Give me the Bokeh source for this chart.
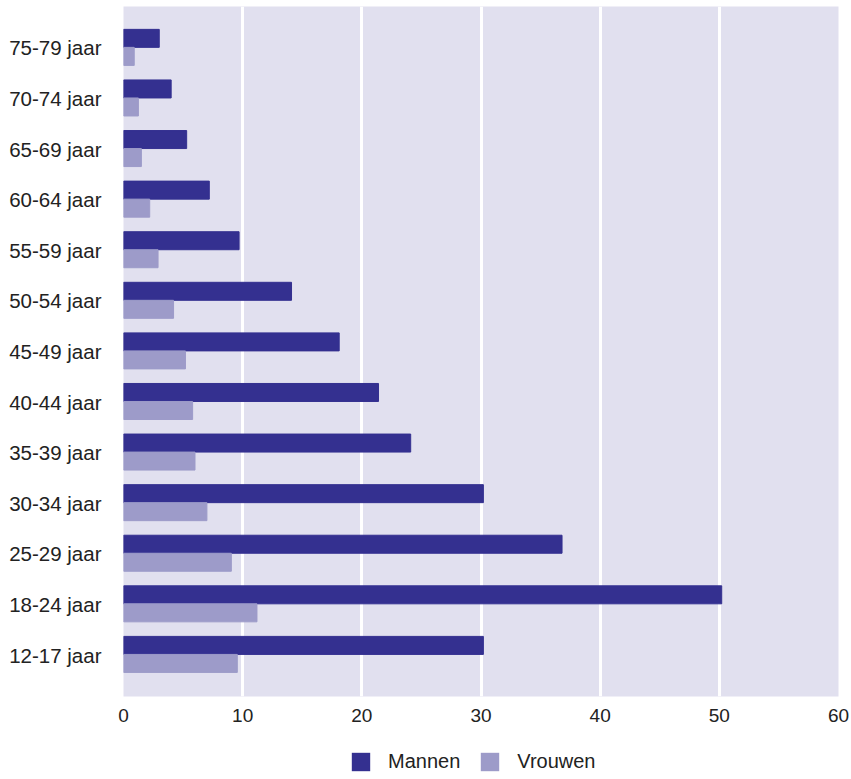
from bokeh.plotting import figure
from bokeh.models import ColumnDataSource, FactorRange, Legend, LegendItem
from bokeh.layouts import column
from bokeh.transform import dodge
from bokeh.embed import file_html
from bokeh.resources import INLINE

categories = ["12-17 jaar", "18-24 jaar", "25-29 jaar", "30-34 jaar", "35-39 jaar",
              "40-44 jaar", "45-49 jaar", "50-54 jaar", "55-59 jaar", "60-64 jaar",
              "65-69 jaar", "70-74 jaar", "75-79 jaar"]
mannen = [30.2, 50.2, 36.8, 30.2, 24.1, 21.4, 18.1, 14.1, 9.7, 7.2, 5.3, 4.0, 3.0]
vrouwen = [9.55, 11.2, 9.05, 7.0, 6.0, 5.8, 5.2, 4.2, 2.9, 2.2, 1.5, 1.25, 0.9]
x_ticks = [0, 10, 20, 30, 40, 50, 60]
series_names = ["Mannen", "Vrouwen"]
series_colors = ["#343090", "#9d9bc9"]

source = ColumnDataSource(dict(cat=categories, mannen=mannen, vrouwen=vrouwen))

p = figure(width=850, height=736, output_backend="svg", toolbar_location=None,
           y_range=FactorRange(factors=categories, range_padding=0.32,
                               range_padding_units="absolute"),
           x_range=(0, 60), min_border_top=6, min_border_right=12,
           min_border_left=123, min_border_bottom=40)

p.background_fill_color = "#e1e0ef"
p.border_fill_color = "white"
p.outline_line_color = None

p.hbar(y=dodge("cat", 0.19, range=p.y_range), right="mannen", left=0,
       height=0.356, color=series_colors[0], source=source)
p.hbar(y=dodge("cat", -0.166, range=p.y_range), right="vrouwen", left=0,
       height=0.356, color=series_colors[1], source=source)

p.xaxis.ticker = x_ticks
p.xaxis.axis_line_color = None
p.xaxis.major_tick_line_color = None
p.xaxis.minor_tick_line_color = None
p.xaxis.major_tick_out = 0
p.xaxis.major_tick_in = 0
p.xaxis.major_label_standoff = 12
p.xaxis.major_label_text_font = "Liberation Sans"
p.xaxis.major_label_text_font_size = "19px"
p.xaxis.major_label_text_color = "#222222"

p.yaxis.axis_line_color = None
p.yaxis.major_tick_line_color = None
p.yaxis.minor_tick_line_color = None
p.yaxis.major_tick_out = 0
p.yaxis.major_tick_in = 0
p.yaxis.major_label_standoff = 22
p.yaxis.major_label_text_font = "Liberation Sans"
p.yaxis.major_label_text_font_size = "20.5px"
p.yaxis.major_label_text_color = "#222222"

p.xgrid.grid_line_color = "white"
p.xgrid.grid_line_width = 3
p.ygrid.grid_line_color = None

# legend strip below the chart: swatch renderers sit far outside the visible range
swatch = ColumnDataSource(dict(y=[-50], left=[-60], right=[-55]))
lg = figure(width=850, height=43, output_backend="svg", toolbar_location=None,
            x_range=(0, 1), y_range=(0, 1),
            x_axis_type=None, y_axis_type=None,
            min_border_top=0, min_border_bottom=0, min_border_left=0, min_border_right=0)
lg.outline_line_color = None
lg.grid.visible = False
lr1 = lg.hbar(y="y", left="left", right="right", height=1, fill_color=series_colors[0],
              line_color=None, source=swatch)
lr2 = lg.hbar(y="y", left="left", right="right", height=1, fill_color=series_colors[1],
              line_color=None, source=swatch)

legend = Legend(items=[LegendItem(label=series_names[0], renderers=[lr1]),
                       LegendItem(label=series_names[1], renderers=[lr2])],
                orientation="horizontal", location=(226, 6))
legend.glyph_width = 23
legend.glyph_height = 23
legend.label_standoff = 16
legend.spacing = 18
legend.label_text_font = "Liberation Sans"
legend.label_text_font_size = "20px"
legend.label_text_color = "#222222"
legend.label_height = 23
legend.padding = 0
legend.margin = 0
legend.border_line_color = None
legend.background_fill_alpha = 0
lg.add_layout(legend, "center")

layout = column(p, lg, spacing=0)
open("out.html", "w").write(file_html(layout, INLINE))
